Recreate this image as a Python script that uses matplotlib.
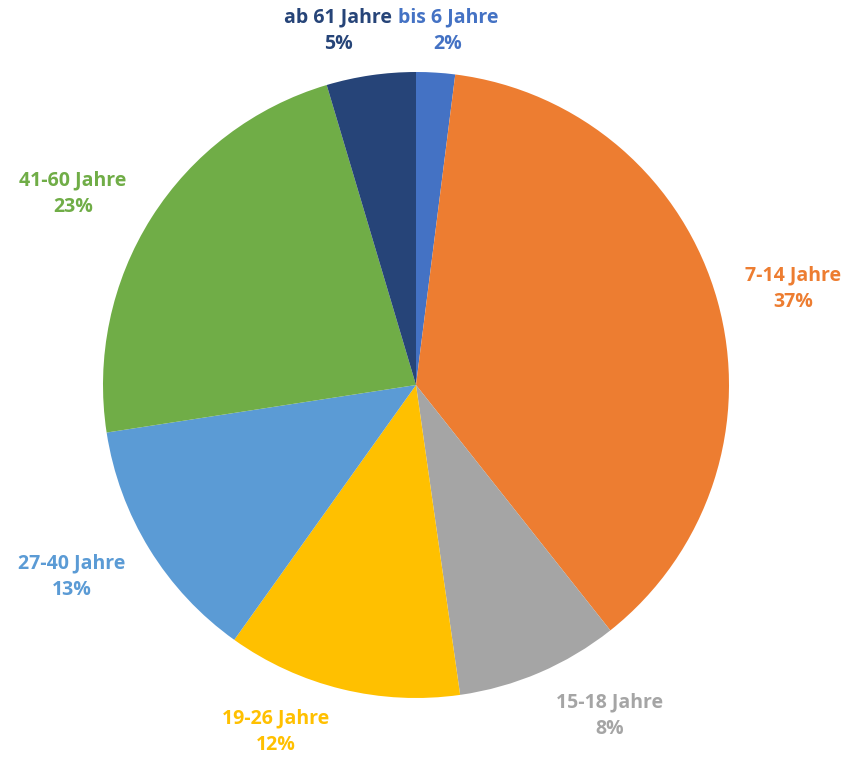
import matplotlib
matplotlib.use('Agg')
import matplotlib.pyplot as plt

labels = ['bis 6 Jahre', '7-14 Jahre', '15-18 Jahre', '19-26 Jahre',
          '27-40 Jahre', '41-60 Jahre', 'ab 61 Jahre']
shares = [2.0, 37.3, 8.4, 12.1, 12.7, 22.8, 4.6]
colors = ['#4472C4', '#ED7D31', '#A5A5A5', '#FFC000',
          '#5B9BD5', '#70AD47', '#264478']

# label centre positions in pixels (x, y from top)
label_pos = [(448, 31), (793, 289), (610, 716), (276, 732),
             (72, 577), (73, 194), (338, 31)]

W, H = 849, 759
fig = plt.figure(figsize=(W / 100, H / 100), dpi=100)
ax = fig.add_axes([0, 0, 1, 1])

ax.pie(shares, colors=colors, startangle=90, counterclock=False,
       center=(416, H - 385), radius=313,
       wedgeprops=dict(linewidth=0))
ax.set_xlim(0, W)
ax.set_ylim(0, H)
ax.set_aspect('equal')
ax.axis('off')

total = sum(shares)
for lab, val, col, (px, py) in zip(labels, shares, colors, label_pos):
    ax.text(px, H - py, f'{lab}\n{val / total * 100:.0f}%', color=col,
            ha='center', va='center', fontsize=14, fontweight='bold',
            family='Open Sans', linespacing=1.45)

fig.savefig('out.png', dpi=100)
